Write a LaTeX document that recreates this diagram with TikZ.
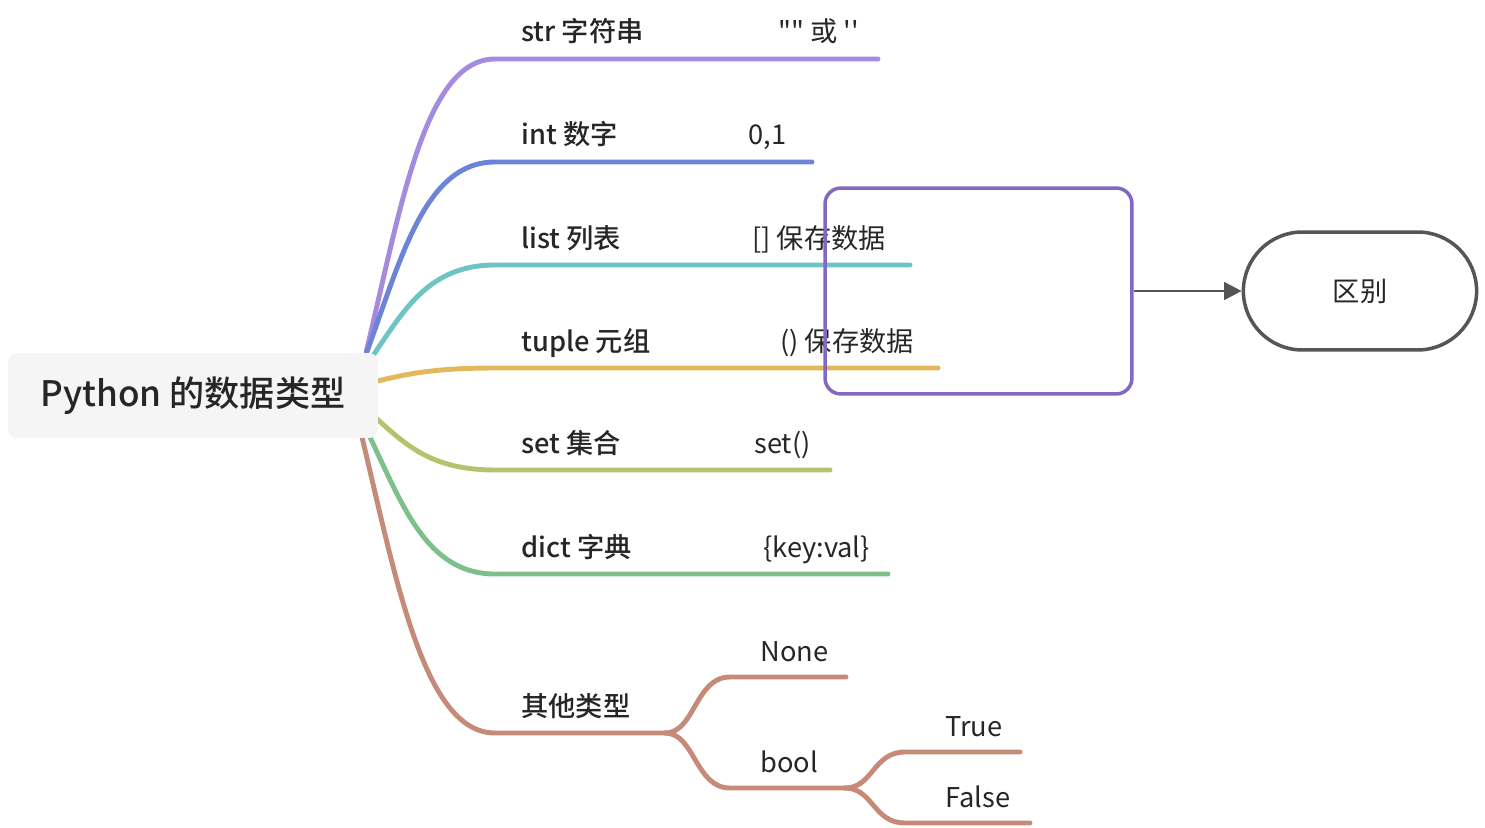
\documentclass[tikz,border=0pt]{standalone}
\usepackage{fontspec}
\setmainfont{Noto Sans CJK SC}[BoldFont={Noto Sans CJK SC Medium}]
\usetikzlibrary{arrows.meta}
\usetikzlibrary{calc}
\usetikzlibrary{backgrounds}
\usetikzlibrary{shapes.misc}
\definecolor{strc}{HTML}{A48BDF}
\definecolor{intc}{HTML}{6B84D8}
\definecolor{listc}{HTML}{6EC3C3}
\definecolor{tuplec}{HTML}{E3B75B}
\definecolor{setc}{HTML}{B3C46E}
\definecolor{dictc}{HTML}{7DC08A}
\definecolor{otherc}{HTML}{C68B78}
\definecolor{boxc}{HTML}{8367C0}
\definecolor{arrc}{HTML}{555555}
\tikzset{branch/.style={line width=2.8pt,line cap=round}}
\tikzset{key/.style={anchor=base west,inner sep=0pt,text=black!85,
                     font=\bfseries\fontsize{15.5}{18}\selectfont}}
\tikzset{val/.style={anchor=base west,inner sep=0pt,text=black!85,
                     font=\fontsize{15.5}{18}\selectfont}}

\begin{document}
\begin{tikzpicture}[x=0.02cm,y=-0.02cm]
    \tikzstyle{topic}=[rounded corners=5pt,fill=black!4,text=black!85,
                       minimum width=7.4cm,minimum height=1.7cm,
                       font=\bfseries\fontsize{20}{24}\selectfont]
    \useasboundingbox (0,0) rectangle (1485,828);

    \node[topic] (root) at (193,395.5) {Python 的数据类型};

    \begin{scope}[on background layer]
    \foreach \ly/\lab/\val/\vx/\ex/\dy/\col [count=\i] in {%
        59/{str 字符串}/{\textquotedbl\textquotedbl\ 或 \textquotesingle\textquotesingle}/778/878/-44/strc,
        162/{int 数字}/{0,1}/748/812/-42/intc,
        265/{list 列表}/{[] 保存数据}/752/910/-30/listc,
        368/{tuple 元组}/{() 保存数据}/780/938/-12/tuplec,
        470/{set 集合}/{set()}/754/830/14/setc,
        574/{dict 字典}/{\{key:val\}}/763/888/34/dictc}{%
          \pgfmathsetmacro{\cy}{0.5*(\ly-395.5-\dy)}
          \coordinate (s\i) at ($(root.east)+(-12,\dy)$);
          \coordinate (e\i) at (\ex,\ly);
          \draw[branch,draw=\col] (s\i) .. controls +(35,\cy) and +(-70,0) .. (495,\ly) -- (e\i);
          \node[key] (k\i) at (521,\ly-17) {\lab};
          \node[val] (v\i) at (\vx,\ly-17) {\val};
		}

    % other types
    \coordinate (s7) at ($(root.east)+(-16,43)$);
    \coordinate (j1) at (665,733);
    \coordinate (j2) at (845,788);
    \coordinate (none) at (846,677);
    \coordinate (true) at (1020,752);
    \coordinate (false) at (1030,823);
    \draw[branch,draw=otherc] (s7) .. controls +(35,147) and +(-70,0) .. (495,733) -- (j1);
    \draw[branch,draw=otherc] (j1) .. controls +(30,0) and +(-35,0) .. (730,677) -- (none);
    \draw[branch,draw=otherc] (j1) .. controls +(30,0) and +(-35,0) .. (730,788) -- (j2);
    \draw[branch,draw=otherc] (j2) .. controls +(28,0) and +(-32,0) .. (905,752) -- (true);
    \draw[branch,draw=otherc] (j2) .. controls +(28,0) and +(-32,0) .. (905,823) -- (false);
    \end{scope}

    \node[key] (k7) at (521,716) {其他类型};
    \node[val] (vnone) at (760,661) {None};
    \node[val] (vbool) at (760,772) {bool};
    \node[val] (vtrue) at (945,736) {True};
    \node[val] (vfalse) at (945,807) {False};

    % comparison
    \node[draw=boxc,line width=2pt,rounded corners=9pt,
          minimum width=6.14cm,minimum height=4.12cm] (cmp) at (978.5,291) {};
    \node[draw=arrc,line width=2pt,rounded rectangle,text=black!85,
          minimum width=4.9cm,minimum height=2.36cm,
          font=\fontsize{15.5}{18}\selectfont] (diff) at (1360,291) {区别};
    \draw[arrc,line width=1.7pt,-{Triangle[length=10pt,width=10pt]}] (cmp.east) -- (diff.west);
\end{tikzpicture}
\end{document}
